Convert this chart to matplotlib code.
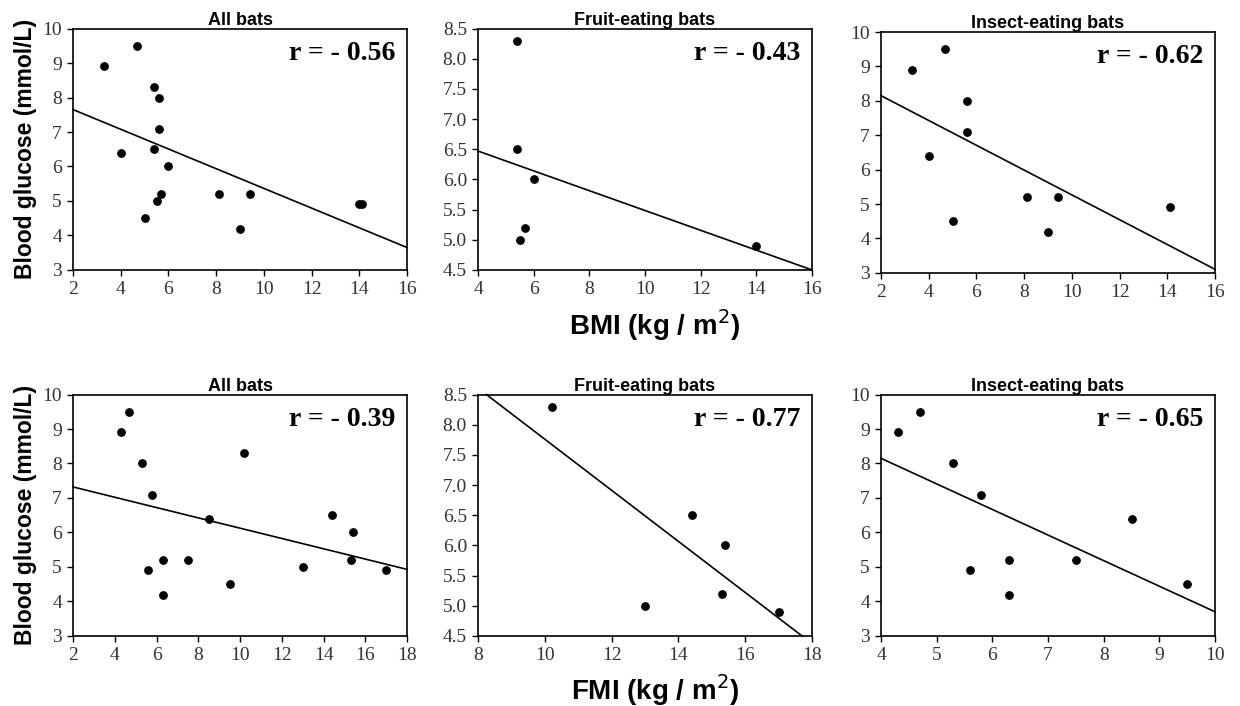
import numpy as np
import matplotlib
matplotlib.use("Agg")
import matplotlib.pyplot as plt

# BMI panels (top row)
bmi_all_x = [3.3, 4.7, 5.4, 5.6, 5.6, 4.0, 5.4, 6.0, 5.7, 5.5, 5.0, 8.1, 9.4, 9.0, 14.0, 14.1]
bmi_all_y = [8.9, 9.5, 8.3, 8.0, 7.1, 6.4, 6.5, 6.0, 5.2, 5.0, 4.5, 5.2, 5.2, 4.2, 4.9, 4.9]
bmi_fruit_x = [5.4, 5.4, 6.0, 5.7, 5.5, 14.0]
bmi_fruit_y = [8.3, 6.5, 6.0, 5.2, 5.0, 4.9]
bmi_insect_x = [3.3, 4.7, 5.6, 5.6, 4.0, 5.0, 8.1, 9.4, 9.0, 14.1]
bmi_insect_y = [8.9, 9.5, 8.0, 7.1, 6.4, 4.5, 5.2, 5.2, 4.2, 4.9]

# FMI panels (bottom row)
fmi_all_x = [4.3, 4.7, 5.3, 5.8, 5.6, 6.3, 6.3, 7.5, 8.5, 9.5, 10.2, 13.0, 14.4, 15.4, 15.3, 17.0]
fmi_all_y = [8.9, 9.5, 8.0, 7.1, 4.9, 5.2, 4.2, 5.2, 6.4, 4.5, 8.3, 5.0, 6.5, 6.0, 5.2, 4.9]
fmi_fruit_x = [10.2, 13.0, 14.4, 15.4, 15.3, 17.0]
fmi_fruit_y = [8.3, 5.0, 6.5, 6.0, 5.2, 4.9]
fmi_insect_x = [4.3, 4.7, 5.3, 5.8, 5.6, 6.3, 6.3, 7.5, 8.5, 9.5]
fmi_insect_y = [8.9, 9.5, 8.0, 7.1, 4.9, 5.2, 4.2, 5.2, 6.4, 4.5]

# fitted lines: (x0, y0, x1, y1)
fit_lines = [
    (2, 7.65, 16, 3.65),
    (4, 6.47, 16, 4.5),
    (2, 8.15, 16, 3.1),
    (2, 7.32, 18, 4.93),
    (8.25, 8.5, 17.7, 4.5),
    (4, 8.15, 10, 3.7),
]
r_values = ["- 0.56", "- 0.43", "- 0.62", "- 0.39", "- 0.77", "- 0.65"]
titles = ["All bats", "Fruit-eating bats", "Insect-eating bats"] * 2

xlims = [(2, 16), (4, 16), (2, 16), (2, 18), (8, 18), (4, 10)]
xticks = [np.arange(2, 17, 2), np.arange(4, 17, 2), np.arange(2, 17, 2),
          np.arange(2, 19, 2), np.arange(8, 19, 2), np.arange(4, 11, 1)]
ylims = [(3, 10), (4.5, 8.5), (3, 10)] * 2
yticks = [np.arange(3, 11, 1), np.arange(4.5, 8.6, 0.5), np.arange(3, 11, 1)] * 2

data = [(bmi_all_x, bmi_all_y), (bmi_fruit_x, bmi_fruit_y), (bmi_insect_x, bmi_insect_y),
        (fmi_all_x, fmi_all_y), (fmi_fruit_x, fmi_fruit_y), (fmi_insect_x, fmi_insect_y)]

fig = plt.figure(figsize=(12.4, 7.06), dpi=100)
lefts = [0.0589, 0.3855, 0.7105]
bottoms = [0.6176, 0.0992]
w, h = 0.2694, 0.342

serif = "Liberation Serif"
sans = "Liberation Sans"

for i in range(6):
    row, col = divmod(i, 3)
    # the top-right panel sits a few pixels lower in the original
    shift = 0.004 if i == 2 else 0
    ax = fig.add_axes([lefts[col], bottoms[row] - shift, w, h - (0.001 if i == 2 else 0)])
    x, y = data[i]
    ax.scatter(x, y, s=28, color="black", zorder=3)
    x0, y0, x1, y1 = fit_lines[i]
    ax.plot([x0, x1], [y0, y1], color="black", lw=1.2, clip_on=False)
    ax.set_xlim(*xlims[i])
    ax.set_ylim(*ylims[i])
    ax.set_xticks(xticks[i])
    ax.set_yticks(yticks[i])
    if i in (1, 4):
        ax.set_yticklabels([f"{v:.1f}" for v in yticks[i]])
    for lab in ax.get_xticklabels() + ax.get_yticklabels():
        lab.set_fontfamily(serif)
        lab.set_fontsize(14)
        lab.set_color("#333333")
    ax.tick_params(direction="out", length=4, width=1, pad=4)
    for sp in ax.spines.values():
        sp.set_linewidth(1.2)
    ax.set_title(titles[i], fontfamily=sans, fontweight="bold", fontsize=13, pad=2)
    ax.text(0.965, 0.95, "r = " + r_values[i], transform=ax.transAxes,
            ha="right", va="top", fontfamily=serif, fontweight="bold", fontsize=20)
    if col == 0:
        ax.set_ylabel("Blood glucose (mmol/L)", fontfamily=sans, fontweight="bold",
                      fontsize=16.5, labelpad=4)

fig.text(0.528, 0.54, "BMI (kg / m$^2$)", ha="center", va="center",
         fontfamily=sans, fontweight="bold", fontsize=20)
fig.text(0.528, 0.022, "FMI (kg / m$^2$)", ha="center", va="center",
         fontfamily=sans, fontweight="bold", fontsize=20)

fig.savefig("out.png", dpi=100, facecolor="white")
